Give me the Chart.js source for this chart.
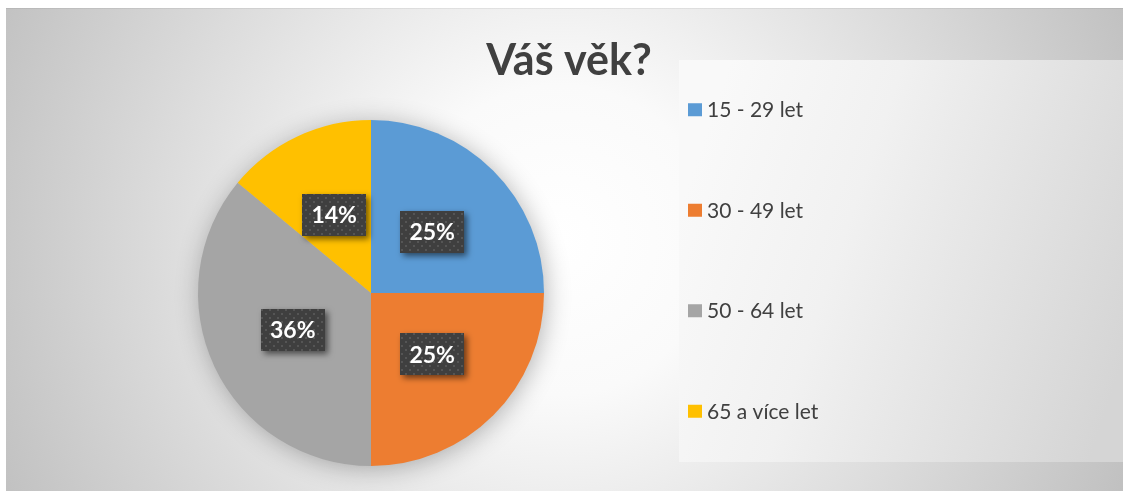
<!DOCTYPE html>
<html>
<head>
<meta charset="utf-8">
<title>Váš věk?</title>
<script src="https://cdn.jsdelivr.net/npm/chart.js@4/dist/chart.umd.min.js"></script>
<style>
  html, body { margin: 0; padding: 0; background: #fff; }
  #wrap { width: 1123px; height: 491px; position: relative; }
</style>
</head>
<body>
<div id="wrap"><canvas id="chart" width="1123" height="491"></canvas></div>
<script>
/*jslint browser:true, indent:2*/
/*globals Chart*/

var chartTitle = 'Váš věk?';
var categories = ['15 - 29 let', '30 - 49 let', '50 - 64 let', '65 a více let'];
var shares = [25, 25, 36, 14];
var sliceColors = ['#5B9BD5', '#ED7D31', '#A5A5A5', '#FFC000'];

(function () {
  'use strict';

  var font, textColor, framePlugin, labelPlugin, dotPattern, frame, legendBox;

  font = 'Lato, "Open Sans", sans-serif';
  textColor = '#404040';
  frame = { x: 6, y: 8, w: 1117, h: 483 };
  legendBox = { x: 679, y: 60, w: 444, h: 402 };

  // dark dotted fill used behind the data labels
  dotPattern = (function () {
    var c = document.createElement('canvas'), g;
    c.width = 8;
    c.height = 8;
    g = c.getContext('2d');
    g.fillStyle = '#3f3f3f';
    g.fillRect(0, 0, 8, 8);
    g.fillStyle = '#555555';
    g.fillRect(1, 1, 2, 2);
    g.fillRect(5, 5, 2, 2);
    return c;
  }());

  framePlugin = {
    id: 'frame',
    beforeDraw: function (chart) {
      var ctx = chart.ctx, grad, lg, i, y, n;
      ctx.save();
      grad = ctx.createRadialGradient(560, 240, 0, 560, 240, 620);
      grad.addColorStop(0, '#ffffff');
      grad.addColorStop(0.25, '#fafafa');
      grad.addColorStop(1, '#c0c0c0');
      ctx.fillStyle = grad;
      ctx.fillRect(frame.x, frame.y, frame.w, frame.h);
      ctx.fillStyle = 'rgba(0,0,0,0.06)';
      ctx.fillRect(frame.x, frame.y, frame.w, 1);

      // legend panel
      lg = ctx.createLinearGradient(legendBox.x, legendBox.y + 150, legendBox.x + legendBox.w, legendBox.y + legendBox.h - 100);
      lg.addColorStop(0, '#f9f9f9');
      lg.addColorStop(0.35, '#f1f1f1');
      lg.addColorStop(1, '#d5d5d5');
      ctx.fillStyle = lg;
      ctx.fillRect(legendBox.x, legendBox.y, legendBox.w, legendBox.h);

      // legend entries
      n = categories.length;
      ctx.font = '21px ' + font;
      ctx.textBaseline = 'middle';
      ctx.textAlign = 'left';
      for (i = 0; i < n; i += 1) {
        y = legendBox.y + (i + 0.5) * legendBox.h / n;
        ctx.fillStyle = sliceColors[i];
        ctx.fillRect(legendBox.x + 9, y - 7, 14, 13);
        ctx.fillStyle = textColor;
        ctx.fillText(categories[i], legendBox.x + 28, y);
      }

      // title
      ctx.font = 'bold 43px ' + font;
      ctx.textAlign = 'center';
      ctx.textBaseline = 'alphabetic';
      ctx.fillStyle = textColor;
      ctx.fillText(chartTitle, 569, 75);
      ctx.restore();
    },
    beforeDatasetsDraw: function (chart) {
      var ctx = chart.ctx, arc = chart.getDatasetMeta(0).data[0];
      if (!arc) {
        return;
      }
      ctx.save();
      ctx.shadowColor = 'rgba(0,0,0,0.3)';
      ctx.shadowBlur = 26;
      ctx.shadowOffsetX = 2;
      ctx.shadowOffsetY = 3;
      ctx.fillStyle = '#bbbbbb';
      ctx.beginPath();
      ctx.arc(arc.x, arc.y, arc.outerRadius - 1, 0, Math.PI * 2);
      ctx.fill();
      ctx.restore();
    }
  };

  labelPlugin = {
    id: 'sliceLabels',
    afterDatasetsDraw: function (chart) {
      var ctx = chart.ctx, meta = chart.getDatasetMeta(0), total;
      total = shares.reduce(function (a, b) { return a + b; }, 0);
      ctx.save();
      ctx.font = 'bold 23px ' + font;
      ctx.textAlign = 'center';
      ctx.textBaseline = 'middle';
      meta.data.forEach(function (arc, i) {
        var p = arc.getCenterPoint(), w = 64, h = 42, txt;
        txt = Math.round(shares[i] / total * 100) + '%';
        ctx.save();
        ctx.shadowColor = 'rgba(0,0,0,0.55)';
        ctx.shadowBlur = 6;
        ctx.shadowOffsetX = 3;
        ctx.shadowOffsetY = 3;
        ctx.fillStyle = ctx.createPattern(dotPattern, 'repeat');
        ctx.fillRect(Math.round(p.x - w / 2), Math.round(p.y - h / 2), w, h);
        ctx.restore();
        ctx.fillStyle = '#ffffff';
        ctx.fillText(txt, p.x, p.y + 1);
      });
      ctx.restore();
    }
  };

  new Chart(document.getElementById('chart'), {
    type: 'pie',
    data: {
      labels: categories,
      datasets: [{
        data: shares,
        backgroundColor: sliceColors,
        borderWidth: 0
      }]
    },
    options: {
      responsive: false,
      animation: false,
      layout: {
        padding: { left: 198, right: 579, top: 120, bottom: 25 }
      },
      plugins: {
        legend: { display: false },
        title: { display: false },
        tooltip: { enabled: false }
      }
    },
    plugins: [framePlugin, labelPlugin]
  });
}());
</script>
</body>
</html>
